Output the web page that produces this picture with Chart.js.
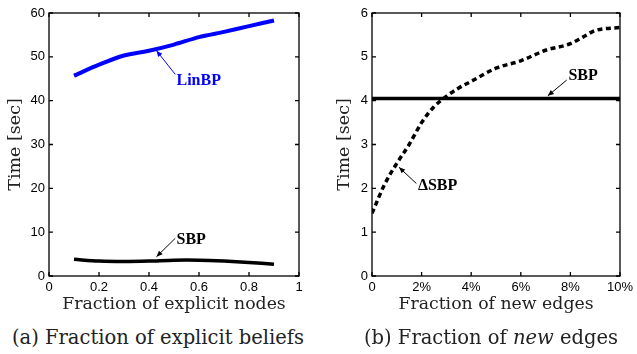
<!DOCTYPE html>
<html>
<head>
<meta charset="utf-8">
<script src="https://cdn.jsdelivr.net/npm/chart.js@4/dist/chart.umd.min.js"></script>
<style>
  html,body{margin:0;padding:0;background:#fff;width:637px;height:354px;overflow:hidden;position:relative;}
  .box{position:absolute;top:0;}
  .cap{position:absolute;top:326px;font-family:"DejaVu Serif",serif;font-size:19.5px;color:#222;white-space:nowrap;transform:translateX(-50%);}
</style>
</head>
<body>
<div class="box" style="left:0;"><canvas id="ca" width="320" height="316"></canvas></div>
<div class="box" style="left:317px;"><canvas id="cb" width="320" height="316"></canvas></div>
<div class="cap" style="left:158px;">(a) Fraction of explicit beliefs</div>
<div class="cap" style="left:491px;">(b) Fraction of <i>new</i> edges</div>
<script>
// ---- data: panel (a) ----
const explicitFractions = [0.1, 0.2, 0.3, 0.4, 0.5, 0.6, 0.7, 0.8, 0.9];
const linbpTimes = [45.7, 48.2, 50.3, 51.4, 52.8, 54.5, 55.7, 57.0, 58.3];
const sbpTimesA  = [3.8, 3.4, 3.3, 3.4, 3.6, 3.6, 3.4, 3.1, 2.7];
const ticksA_x = [0, 0.2, 0.4, 0.6, 0.8, 1];
const ticksA_y = [0, 10, 20, 30, 40, 50, 60];

// ---- data: panel (b) ----  (x in percent)
const newEdgeFractions = [0, 0.5, 1, 1.5, 2, 2.5, 3, 3.5, 4, 5, 6, 7, 8, 8.5, 9, 10];
const deltaSbpTimes    = [1.43, 2.08, 2.57, 3.0, 3.5, 3.86, 4.1, 4.29, 4.44, 4.74, 4.91, 5.15, 5.3, 5.45, 5.6, 5.67];
const sbpEdgeFractions = [0, 10];
const sbpTimesB        = [4.05, 4.05];
const ticksB_x = [0, 2, 4, 6, 8, 10];
const ticksB_y = [0, 1, 2, 3, 4, 5, 6];

// ---- annotations (label position, arrow tail, arrow tip) in data units ----
const notesA = [
  {text:'LinBP', color:'#0000ff', at:[0.51, 44.6], tail:[0.505, 46.0], tip:[0.43, 51.4]},
  {text:'SBP',   color:'#000000', at:[0.51, 8.3],  tail:[0.505, 8.6],  tip:[0.43, 4.4]}
];
const notesB = [
  {text:'SBP',   color:'#000000', at:[7.92, 4.57], tail:[7.85, 4.47], tip:[7.09, 4.11]},
  {text:'\u0394SBP', color:'#000000', at:[1.85, 2.05], tail:[1.79, 2.11], tip:[1.09, 2.48]}
];

const SANS = '"Liberation Sans", Arial, sans-serif';
const SERIF = '"DejaVu Serif", serif';

const framePlugin = {
  id: 'frame',
  afterDatasetsDraw(chart, args, opts) {
    const {ctx, chartArea: a, scales: {x, y}} = chart;
    ctx.save();
    ctx.strokeStyle = '#000';
    ctx.lineWidth = 1.3;
    ctx.strokeRect(a.left, a.top, a.right - a.left, a.bottom - a.top);
    const L = 4;
    ctx.beginPath();
    x.ticks.forEach((t, i) => {
      const px = x.getPixelForTick(i);
      ctx.moveTo(px, a.bottom); ctx.lineTo(px, a.bottom - L);
      ctx.moveTo(px, a.top); ctx.lineTo(px, a.top + L);
    });
    y.ticks.forEach((t, i) => {
      const py = y.getPixelForTick(i);
      ctx.moveTo(a.left, py); ctx.lineTo(a.left + L, py);
      ctx.moveTo(a.right, py); ctx.lineTo(a.right - L, py);
    });
    ctx.stroke();
    // annotations
    (opts.notes || []).forEach(n => {
      const tx = x.getPixelForValue(n.tail[0]), ty = y.getPixelForValue(n.tail[1]);
      const hx = x.getPixelForValue(n.tip[0]), hy = y.getPixelForValue(n.tip[1]);
      ctx.strokeStyle = n.color; ctx.fillStyle = n.color; ctx.lineWidth = 1;
      ctx.beginPath(); ctx.moveTo(tx, ty); ctx.lineTo(hx, hy); ctx.stroke();
      const ang = Math.atan2(hy - ty, hx - tx), hl = 6, hw = 2.6;
      ctx.beginPath();
      ctx.moveTo(hx, hy);
      ctx.lineTo(hx - hl * Math.cos(ang) + hw * Math.sin(ang), hy - hl * Math.sin(ang) - hw * Math.cos(ang));
      ctx.lineTo(hx - hl * Math.cos(ang) - hw * Math.sin(ang), hy - hl * Math.sin(ang) + hw * Math.cos(ang));
      ctx.closePath(); ctx.fill();
      ctx.font = 'bold 16px "Liberation Serif", serif';
      ctx.textAlign = 'left'; ctx.textBaseline = 'middle';
      ctx.fillText(n.text, x.getPixelForValue(n.at[0]), y.getPixelForValue(n.at[1]));
    });
    ctx.restore();
  }
};

function makeScales(xmin, xmax, xticks, ymin, ymax, yticks, xTitle, yWidth, yTitlePad, xFmt) {
  return {
    x: {
      type: 'linear', min: xmin, max: xmax,
      afterBuildTicks: s => { s.ticks = xticks.map(v => ({value: v})); },
      afterFit: s => { s.height = 40; },
      grid: {display: false, drawTicks: false},
      border: {display: false},
      ticks: {padding: 4, color: '#000', font: {family: SANS, size: 13}, maxRotation: 0, autoSkip: false,
              callback: xFmt},
      title: {display: true, text: xTitle, color: '#222', font: {family: SERIF, size: 17.3}, padding: {top: 0, bottom: 1}}
    },
    y: {
      type: 'linear', min: ymin, max: ymax,
      afterBuildTicks: s => { s.ticks = yticks.map(v => ({value: v})); },
      afterFit: s => { s.width = yWidth; },
      grid: {display: false, drawTicks: false},
      border: {display: false},
      ticks: {padding: 4, color: '#000', font: {family: SANS, size: 13}, autoSkip: false,
              callback: v => String(v)},
      title: {display: true, text: 'Time [sec]', color: '#222', font: {family: SERIF, size: 17.5}, padding: {top: yTitlePad, bottom: 0}}
    }
  };
}

Chart.defaults.animation = false;

new Chart(document.getElementById('ca'), {
  type: 'line',
  data: {
    datasets: [
      {label: 'LinBP', data: explicitFractions.map((v, i) => ({x: v, y: linbpTimes[i]})),
       borderColor: '#0000ff', borderWidth: 4, pointRadius: 0, tension: 0.25, fill: false},
      {label: 'SBP', data: explicitFractions.map((v, i) => ({x: v, y: sbpTimesA[i]})),
       borderColor: '#000', borderWidth: 3.5, pointRadius: 0, tension: 0.3, fill: false}
    ]
  },
  options: {
    responsive: false,
    layout: {padding: {top: 13, right: 21, left: 0, bottom: 0}},
    plugins: {legend: {display: false}, tooltip: {enabled: false}, frame: {notes: notesA}},
    scales: makeScales(0, 1, ticksA_x, 0, 60, ticksA_y, 'Fraction of explicit nodes', 49, 5, v => String(v))
  },
  plugins: [framePlugin]
});

new Chart(document.getElementById('cb'), {
  type: 'line',
  data: {
    datasets: [
      {label: 'SBP', data: sbpEdgeFractions.map((v, i) => ({x: v, y: sbpTimesB[i]})),
       borderColor: '#000', borderWidth: 3.5, pointRadius: 0, fill: false},
      {label: '\u0394SBP', data: newEdgeFractions.map((v, i) => ({x: v, y: deltaSbpTimes[i]})),
       borderColor: '#000', borderWidth: 3.5, borderDash: [5, 3.5], pointRadius: 0,
       cubicInterpolationMode: 'monotone', fill: false}
    ]
  },
  options: {
    responsive: false,
    layout: {padding: {top: 13, right: 15, left: 0, bottom: 0}},
    plugins: {legend: {display: false}, tooltip: {enabled: false}, frame: {notes: notesB}},
    scales: makeScales(0, 10, ticksB_x, 0, 6, ticksB_y, 'Fraction of new edges', 55, 17, v => v === 0 ? '0' : v + '%')
  },
  plugins: [framePlugin]
});
</script>
</body>
</html>
